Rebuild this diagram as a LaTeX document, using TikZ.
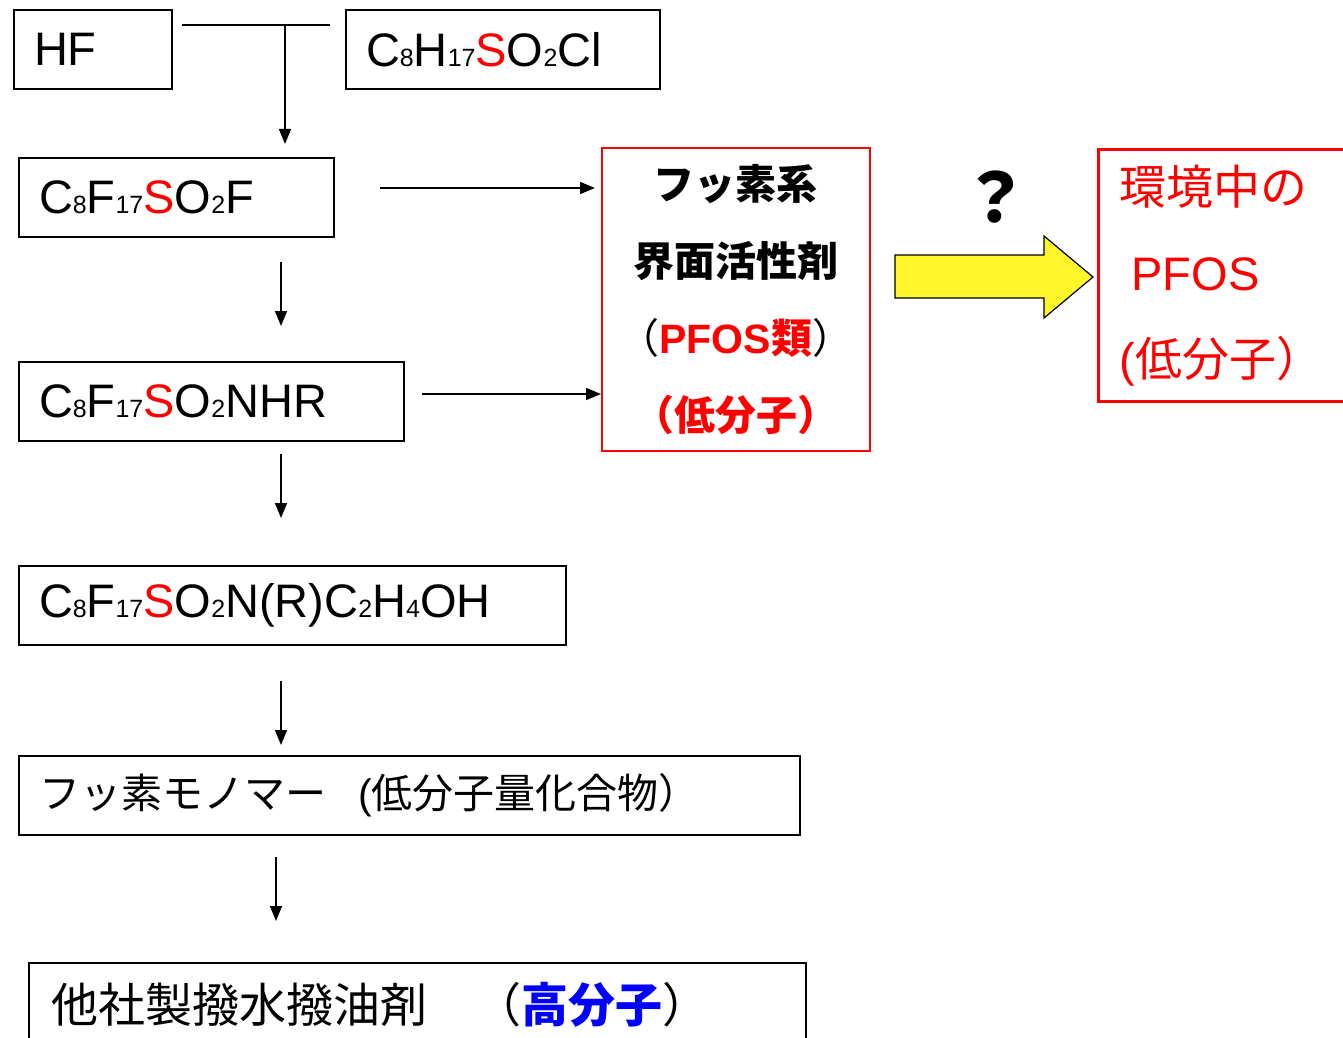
\documentclass[tikz,border=0pt]{standalone}
\usepackage{fontspec}
\setmainfont{Liberation Sans}
\newfontfamily\cjk{Noto Sans CJK JP}
\usetikzlibrary{arrows.meta}
\definecolor{pyellow}{RGB}{255,245,43}
\newcommand\sbs[1]{{\fontsize{25}{25}\selectfont #1}}
\newcommand\Sred{{\color{red}S}}
\begin{document}
\begin{tikzpicture}[x=1pt,y=-1pt,
  box/.style={draw, line width=2pt, inner xsep=20pt, inner ysep=0pt, align=left, anchor=north west, minimum height=79pt, font=\fontsize{47}{56}\selectfont},
  conn/.style={line width=1.5pt},
  arr/.style={line width=1.5pt, -{Triangle[length=15pt,width=12pt]}}]
\useasboundingbox (0,0) rectangle (1343,1038);
\clip (0,0) rectangle (1343,1038);

% left column boxes
\node[box, text width=118pt] (hf) at (13,9) {HF};
\node[box, text width=274pt] (c8h) at (345,9) {C\sbs{8}H\sbs{17}\Sred O\sbs{2}Cl};
\node[box, text width=275pt] (sf) at (18,157) {C\sbs{8}F\sbs{17}\Sred O\sbs{2}F};
\node[box, text width=345pt] (nhr) at (18,361) {C\sbs{8}F\sbs{17}\Sred O\sbs{2}NHR};
\node[box, text width=507pt] (oh) at (18,565) {C\sbs{8}F\sbs{17}\Sred O\sbs{2}N(R)C\sbs{2}H\sbs{4}OH};
\node[box, text width=741pt, font=\fontsize{41}{50}\selectfont] (mono) at (18,755) {{\cjk フッ素モノマー}\hspace{32pt}({\cjk 低分子量化合物）}};
\node[box, text width=733pt, inner xsep=22pt, minimum height=84pt] (poly) at (28,962) {{\cjk 他社製撥水撥油剤　（{\color{blue}\bfseries 高分子}）}};

% middle red box
\node[draw=red, line width=1.5pt, anchor=north west, minimum width=268pt, minimum height=303pt, text width=248pt, inner xsep=10pt, align=center, font=\fontsize{41}{77}\selectfont\bfseries] (mid) at (601,147)
  {{\cjk フッ素系}\\{\cjk 界面活性剤}\\{\cjk\mdseries （}{\color{red}PFOS{\cjk 類}}{\cjk\mdseries ）}\\{\color{red}\cjk （低分子）}};

% right red box
\node[draw=red, line width=3pt, anchor=north west, minimum width=270pt, minimum height=252pt, text width=228pt, inner xsep=21pt, align=left, text=red, font=\fontsize{47}{86}\selectfont] (env) at (1097,148)
  {{\cjk 環境中の}\\\hspace*{12pt}PFOS\\({\cjk 低分子）}};

% question mark
\node[font=\cjk\bfseries\fontsize{68}{68}\selectfont] (q) at (995,197) {？};

% yellow block arrow
\draw[line width=1.2pt, fill=pyellow, line join=miter] (895,255) -- (1044,255) -- (1044,236) -- (1093,277) -- (1044,318) -- (1044,298) -- (895,298) -- cycle;

% junction from HF and C8H17SO2Cl
\coordinate (jl) at ([xshift=9pt,yshift=24.5pt]hf.east);
\coordinate (jr) at ([xshift=-15pt,yshift=24.5pt]c8h.west);
\coordinate (j) at (285,24);
\draw[conn] (jl) -- (jr);
\draw[arr, shorten >=13pt] (j) -- (j |- sf.north);

% horizontal arrows to middle box
\coordinate (s1) at ([xshift=45pt,yshift=9.5pt]sf.east);
\draw[arr, shorten >=6pt] (s1) -- (s1 -| mid.west);
\coordinate (s2) at ([xshift=17pt,yshift=7.5pt]nhr.east);
\draw[arr] (s2) -- (s2 -| mid.west);

% vertical arrows
\coordinate (c1) at ([xshift=104.5pt]sf.south);
\draw[arr, shorten <=24pt, shorten >=35pt] (c1) -- (c1 |- nhr.north);
\coordinate (c2) at ([xshift=69.5pt]nhr.south);
\draw[arr, shorten <=12pt, shorten >=47pt] (c2) -- (c2 |- oh.north);
\coordinate (c3) at ([xshift=-11.5pt]oh.south);
\draw[arr, shorten <=35pt, shorten >=10pt] (c3) -- (c3 |- mono.north);
\coordinate (c4) at ([xshift=-133.5pt]mono.south);
\draw[arr, shorten <=21pt, shorten >=41pt] (c4) -- (c4 |- poly.north);
\end{tikzpicture}
\end{document}
